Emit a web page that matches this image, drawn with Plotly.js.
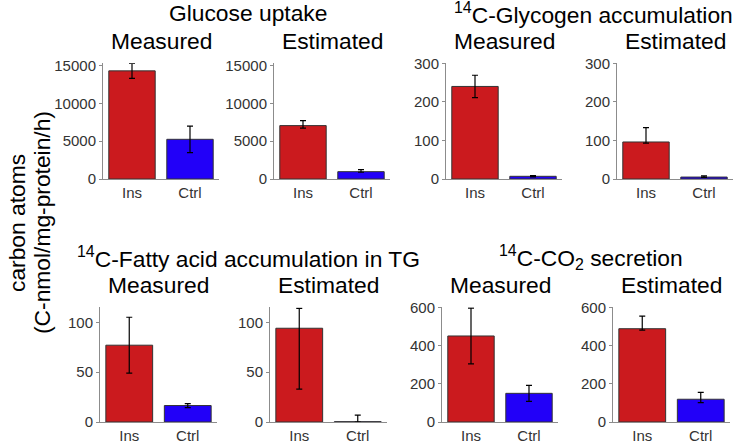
<!DOCTYPE html>
<html>
<head>
<meta charset="utf-8">
<script src="https://cdn.plot.ly/plotly-3.0.1.min.js"></script>
<style>
  html, body { margin: 0; padding: 0; background: #fff; }
  #chart { width: 736px; height: 445px; }
</style>
</head>
<body>
<div id="chart"></div>
<script>
// --- Data ---
const groups = ['Ins', 'Ctrl'];

// Glucose uptake
const glucoseMeasured = [14300, 5250];
const glucoseMeasuredErrPlus = [1000, 1750];
const glucoseMeasuredErrMinus = [1000, 1750];
const glucoseEstimated = [7060, 970];
const glucoseEstimatedErrPlus = [660, 280];
const glucoseEstimatedErrMinus = [345, 80];

// 14C-Glycogen accumulation
const glycogenMeasured = [240, 7];
const glycogenMeasuredErrPlus = [29, 1.5];
const glycogenMeasuredErrMinus = [29, 1.5];
const glycogenEstimated = [96, 5];
const glycogenEstimatedErrPlus = [37, 3];
const glycogenEstimatedErrMinus = [3, 1];

// 14C-Fatty acid accumulation in TG
const fattyMeasured = [77, 16.5];
const fattyMeasuredErrPlus = [28, 2];
const fattyMeasuredErrMinus = [28, 2];
const fattyEstimated = [94, 0.3];
const fattyEstimatedErrPlus = [20, 6.5];
const fattyEstimatedErrMinus = [61, 0.3];

// 14C-CO2 secretion
const co2Measured = [450, 150];
const co2MeasuredErrPlus = [146, 42];
const co2MeasuredErrMinus = [146, 42];
const co2Estimated = [488, 119];
const co2EstimatedErrPlus = [66, 36];
const co2EstimatedErrMinus = [7, 18];

// tick values / axis ranges
const glucoseTicks = [0, 5000, 10000, 15000];
const glycogenTicks = [0, 100, 200, 300];
const fattyTicks = [0, 50, 100];
const co2Ticks = [0, 200, 400, 600];
const glucoseRange = [0, 15300];
const glycogenRange = [0, 300];
const fattyRange = [0, 115];
const co2Range = [0, 600];

const panelTitles = ['Measured', 'Estimated'];
const groupTitles = [
  'Glucose uptake',
  '<sup>14</sup>C-Glycogen accumulation',
  '<sup>14</sup>C-Fatty acid accumulation in TG',
  '<sup>14</sup>C-CO<sub>2</sub> secretion'
];
const yTitleLines = ['carbon atoms', '(C-nmol/mg-protein/h)'];

// --- Layout helpers ---
const W = 736, H = 445;
const FONT = 'Liberation Sans, Arial, Helvetica, sans-serif';
const TITLE_SIZE = 22.8;
const TICK_SIZE = 15;
const barColors = ['#CB1A1E', '#2200F8'];

// pixel boxes of each panel [x0, x1, yTop, yBottom]
const boxes = [
  [103, 219, 63.3, 179], [274, 390, 63.3, 179], [446, 562, 63.3, 179], [617, 733, 63.3, 179],
  [100, 217, 307.3, 422], [270, 387, 307.3, 422], [442, 558, 307.3, 422], [613, 730, 307.3, 422]
];
// small horizontal nudge (px) of each group title
const titleNudge = [1, 4, 5, 5];

const panels = [
  { y: glucoseMeasured, up: glucoseMeasuredErrPlus, dn: glucoseMeasuredErrMinus, ticks: glucoseTicks, range: glucoseRange },
  { y: glucoseEstimated, up: glucoseEstimatedErrPlus, dn: glucoseEstimatedErrMinus, ticks: glucoseTicks, range: glucoseRange },
  { y: glycogenMeasured, up: glycogenMeasuredErrPlus, dn: glycogenMeasuredErrMinus, ticks: glycogenTicks, range: glycogenRange },
  { y: glycogenEstimated, up: glycogenEstimatedErrPlus, dn: glycogenEstimatedErrMinus, ticks: glycogenTicks, range: glycogenRange },
  { y: fattyMeasured, up: fattyMeasuredErrPlus, dn: fattyMeasuredErrMinus, ticks: fattyTicks, range: fattyRange },
  { y: fattyEstimated, up: fattyEstimatedErrPlus, dn: fattyEstimatedErrMinus, ticks: fattyTicks, range: fattyRange },
  { y: co2Measured, up: co2MeasuredErrPlus, dn: co2MeasuredErrMinus, ticks: co2Ticks, range: co2Range },
  { y: co2Estimated, up: co2EstimatedErrPlus, dn: co2EstimatedErrMinus, ticks: co2Ticks, range: co2Range }
];

const traces = [];
const layout = {
  width: W, height: H,
  margin: { l: 0, r: 0, t: 0, b: 0 },
  paper_bgcolor: '#fff', plot_bgcolor: '#fff',
  showlegend: false,
  font: { family: FONT, color: '#000' },
  annotations: []
};

panels.forEach((p, i) => {
  const n = i + 1;
  const b = boxes[i];
  traces.push({
    type: 'bar',
    x: groups,
    y: p.y,
    width: 0.8,
    xaxis: 'x' + n, yaxis: 'y' + n,
    marker: { color: barColors, line: { color: '#333', width: 1 } },
    error_y: {
      type: 'data', symmetric: false,
      array: p.up, arrayminus: p.dn,
      color: '#000', thickness: 1.2, width: 3
    },
    hoverinfo: 'x+y'
  });
  layout['xaxis' + n] = {
    domain: [b[0] / W, b[1] / W],
    anchor: 'y' + n,
    type: 'category',
    range: [-0.5, 1.5],
    showline: true, linecolor: '#8c8c8c', linewidth: 1,
    ticks: '', showgrid: false, zeroline: false,
    tickfont: { family: FONT, size: TICK_SIZE, color: '#333' }
  };
  layout['yaxis' + n] = {
    domain: [1 - b[3] / H, 1 - b[2] / H],
    anchor: 'x' + n,
    range: p.range,
    tickvals: p.ticks,
    ticktext: p.ticks.map(String),
    showline: true, linecolor: '#8c8c8c', linewidth: 1,
    ticks: 'outside', ticklen: 3, tickcolor: '#8c8c8c',
    showgrid: false, zeroline: false,
    tickfont: { family: FONT, size: TICK_SIZE, color: '#333' }
  };
  // Measured / Estimated
  layout.annotations.push({
    text: panelTitles[i % 2],
    xref: 'paper', yref: 'paper',
    x: (b[0] + b[1]) / 2 / W,
    y: 1 - (b[2] - 22) / H,
    xanchor: 'center', yanchor: 'middle', showarrow: false,
    font: { family: FONT, size: TITLE_SIZE, color: '#000' }
  });
});

// group titles, centred over each pair of panels
groupTitles.forEach((t, g) => {
  const left = boxes[g * 2], right = boxes[g * 2 + 1];
  layout.annotations.push({
    text: t,
    xref: 'paper', yref: 'paper',
    x: ((left[0] + right[1]) / 2 + titleNudge[g]) / W,
    y: 1 - (left[2] - 50) / H,
    xanchor: 'center', yanchor: 'middle', showarrow: false,
    font: { family: FONT, size: TITLE_SIZE, color: '#000' }
  });
});

// shared y-axis title (two lines)
yTitleLines.forEach((t, k) => {
  layout.annotations.push({
    text: t,
    xref: 'paper', yref: 'paper',
    x: (17 + k * 25) / W, y: 1 - 223 / H,
    xanchor: 'center', yanchor: 'middle', textangle: -90, showarrow: false,
    font: { family: FONT, size: TITLE_SIZE, color: '#000' }
  });
});

Plotly.newPlot('chart', traces, layout, { displayModeBar: false, staticPlot: true });
</script>
</body>
</html>
